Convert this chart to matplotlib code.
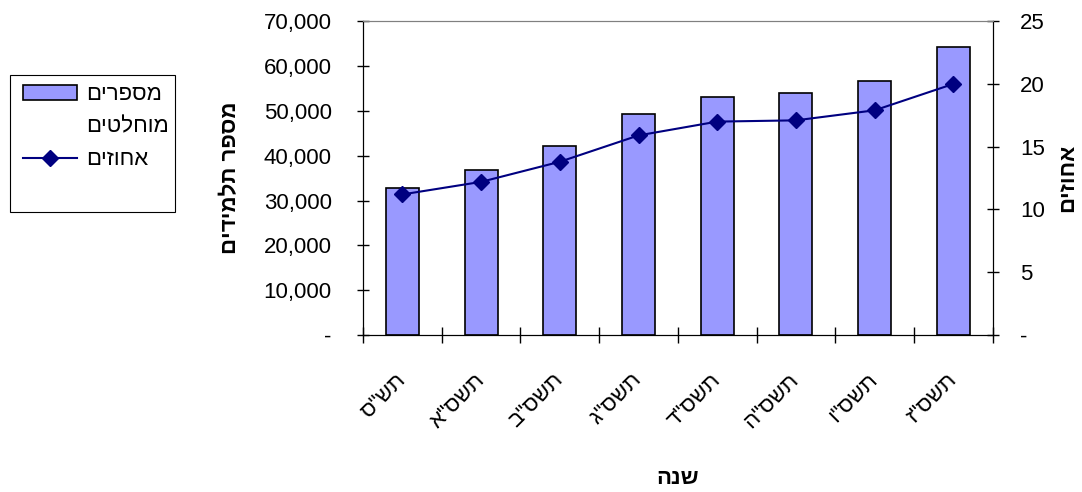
import matplotlib.pyplot as plt
import matplotlib.ticker as mticker
from matplotlib.lines import Line2D
from matplotlib.patches import Patch, Rectangle

plt.rcParams['font.family'] = ['Liberation Sans', 'DejaVu Sans']

# school years (Hebrew calendar), absolute counts and percentages
years = ['תש"ס', 'תשס"א', 'תשס"ב', 'תשס"ג', 'תשס"ד', 'תשס"ה', 'תשס"ו', 'תשס"ז']
students = [32700, 36800, 42100, 49300, 53100, 53900, 56600, 64200]
percent = [11.2, 12.2, 13.8, 15.9, 17.0, 17.1, 17.9, 20.0]

bar_label = ['מספרים', 'מוחלטים']
line_label = 'אחוזים'
left_title = 'מספר תלמידים'
right_title = 'אחוזים'
x_title = 'שנה'

FS = 16
BAR_COLOR = '#9999FF'
LINE_COLOR = '#000080'


def rtl(s):
    # matplotlib lays text out left-to-right, so flip Hebrew strings
    return s[::-1]


fig = plt.figure(figsize=(10.82, 4.92), dpi=100)
ax = fig.add_axes([0.3355, 0.319, 0.582, 0.638])
ax2 = ax.twinx()

x = list(range(len(years)))
ax.bar(x, students, width=0.42, color=BAR_COLOR, edgecolor='black', linewidth=1.2, zorder=2)
ax2.plot(x, percent, color=LINE_COLOR, linewidth=1.5, marker='D', markersize=8,
         markerfacecolor=LINE_COLOR, markeredgecolor=LINE_COLOR, zorder=3)

ax.set_xlim(-0.5, len(years) - 0.5)
ax.set_ylim(0, 70000)
ax2.set_ylim(0, 25)

ax.yaxis.set_major_locator(mticker.MultipleLocator(10000))
ax.yaxis.set_major_formatter(mticker.FuncFormatter(lambda v, p: '-' if v == 0 else f'{v:,.0f}'))
ax2.yaxis.set_major_locator(mticker.MultipleLocator(5))
ax2.yaxis.set_major_formatter(mticker.FuncFormatter(lambda v, p: '-' if v == 0 else f'{v:.0f}'))

# category ticks sit on the boundaries between bars
ax.set_xticks([i - 0.5 for i in range(len(years) + 1)])
ax.set_xticklabels([])
ax.tick_params(axis='x', which='major', direction='inout', length=12, width=1)
ax.set_xticks(x, minor=True)
ax.set_xticklabels([rtl(y) for y in years], minor=True, rotation=45,
                   ha='right', va='center', rotation_mode='anchor', fontsize=FS)
ax.tick_params(axis='x', which='minor', length=0, pad=30)

ax.tick_params(axis='y', direction='inout', length=9, width=1, labelsize=FS, pad=18)
ax2.tick_params(axis='y', direction='inout', length=9, width=1, labelsize=FS, pad=15)

for a in (ax, ax2):
    a.spines['top'].set_color('#808080')
    a.spines['left'].set_color('black')
    a.spines['right'].set_color('black')
    a.spines['bottom'].set_color('black')
    a.set_facecolor('none')

ax.set_ylabel(rtl(left_title), fontsize=FS, fontweight='bold', labelpad=16)
ax2.set_ylabel(rtl(right_title), fontsize=FS, fontweight='bold', rotation=90, labelpad=9)
ax.set_xlabel(rtl(x_title), fontsize=FS, fontweight='bold', labelpad=26)

# legend in a tall box at the left
fig.patches.append(Rectangle((10 / 1082, 1 - 212 / 492), 165 / 1082, 137 / 492,
                             transform=fig.transFigure, facecolor='white',
                             edgecolor='black', linewidth=0.8))
handles = [
    Patch(facecolor=BAR_COLOR, edgecolor='black', linewidth=1.2),
    Patch(facecolor='none', edgecolor='none'),
    Line2D([], [], color=LINE_COLOR, linewidth=1.5, marker='D', markersize=8),
]
labels = [rtl(bar_label[0]), rtl(bar_label[1]), rtl(line_label)]
fig.legend(handles, labels, loc='upper left',
           bbox_to_anchor=(19 / 1082, 1 - 80 / 492), frameon=False, fontsize=FS,
           handlelength=2.4, handleheight=0.65, handletextpad=0.4, labelspacing=0.51,
           borderpad=0.2, borderaxespad=0)

fig.savefig('out.png', dpi=100)
